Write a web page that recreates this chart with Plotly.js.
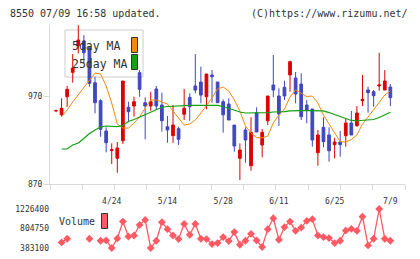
<!DOCTYPE html>
<html><head><meta charset="utf-8">
<script src="https://cdn.plot.ly/plotly-3.0.1.min.js"></script>
<style>html,body{margin:0;padding:0;background:#fff}#chart{width:420px;height:259px}</style>
</head><body><div id="chart"></div>
<script>
// ---- data ----
const dayIndex = [0,1,2,3,4,5,6,7,8,9,10,11,12,13,14,15,16,17,18,19,20,21,22,23,24,25,26,27,28,29,30,31,32,33,34,35,36,37,38,39,40,41,42,43,44,45,46,47,48,49,50,51,52,53,54,55,56,57,58,59,60];
const tickIdx = [10,20,30,40,50,60];
const tickLabels = ['4/24','5/14','5/28','6/11','6/25','7/9'];

const openP  = [953.0,948.7,969.2,996.9,1027.2,1032.5,1024.9,985.1,964.7,930.2,908.0,899.2,919.2,957.2,958.6,996.5,962.4,958.6,978.0,959.8,935.1,924.9,932.8,949.2,968.5,981.4,985.9,969.2,993.9,985.9,963.5,960.9,937.0,899.2,931.4,890.8,951.0,914.3,941.9,982.5,970.0,979.9,993.9,990.5,983.6,959.8,955.2,905.6,934.4,925.7,914.7,917.7,924.9,939.3,936.2,964.7,976.8,974.9,981.4,976.8,980.2];
const highP  = [954.5,967.4,981.4,1017.7,1050.5,1039.3,1025.3,991.9,966.2,934.4,916.2,917.7,987.0,963.5,969.2,999.5,968.5,974.9,981.4,973.8,947.3,959.8,935.1,978.0,973.1,1017.7,1003.3,995.0,999.5,985.9,966.2,967.4,937.0,916.2,934.4,945.8,957.2,932.5,970.0,1016.6,978.8,987.4,1010.1,997.3,995.8,965.5,955.2,931.4,945.8,934.4,922.6,930.2,944.7,953.0,958.6,993.9,980.6,976.8,1019.2,999.5,983.6];
const lowP   = [952.0,946.5,957.5,985.1,1018.5,1007.2,980.6,950.3,923.7,906.0,892.7,882.8,915.5,940.8,946.5,969.2,920.8,953.3,954.1,929.4,916.9,916.9,914.3,942.7,941.9,973.1,961.7,954.9,962.4,962.0,928.3,942.7,906.7,874.5,894.2,885.1,929.1,900.3,937.0,968.5,935.9,965.5,974.9,961.7,942.7,939.0,912.4,890.8,911.7,895.3,899.2,901.0,912.4,925.7,935.1,958.6,951.0,957.8,976.0,976.8,958.6];
const closeP = [953.5,956.0,977.6,1001.8,1033.6,1019.2,984.4,962.4,932.2,916.9,909.0,910.9,987.0,952.2,963.5,977.6,958.6,963.5,958.6,941.9,931.4,937.0,920.8,956.0,957.8,976.8,971.1,995.0,991.9,962.4,948.7,942.7,913.2,908.6,920.0,928.7,929.1,928.7,970.0,976.8,949.5,970.0,1009.0,972.3,946.5,954.1,920.0,925.7,918.1,907.8,917.7,914.7,939.3,925.7,950.7,966.2,973.8,970.3,982.5,987.0,968.1];

const ma5  = [null,946.5,954.1,963.2,971.1,979.1,987.0,996.1,995.0,981.4,962.0,938.2,933.6,933.6,939.3,946.1,956.4,965.5,965.5,963.2,960.9,953.0,945.0,937.0,938.2,942.7,950.7,958.6,967.7,978.0,980.2,975.7,965.5,953.0,935.9,928.0,922.8,922.3,924.5,939.3,948.4,955.2,968.9,976.8,973.4,969.4,970.0,962.0,948.4,938.2,926.8,918.1,917.7,920.5,925.7,938.2,946.1,954.1,962.0,971.1,975.7];
const ma25 = [null,909.8,909.8,914.3,916.6,921.7,927.4,931.4,934.8,935.9,935.3,935.3,936.5,941.0,943.3,946.1,949.5,952.2,954.9,957.2,958.1,958.6,959.2,959.4,959.4,959.4,959.4,959.4,959.4,959.4,958.1,955.8,953.5,951.8,950.7,950.7,950.7,950.7,951.2,951.8,951.8,952.2,953.0,953.5,953.3,953.3,953.3,953.3,953.0,951.2,949.0,946.7,944.4,942.2,941.9,942.2,942.4,943.3,945.6,948.4,951.5];

// volume points that are not visible in the reference are left empty
const volume = [null,503300,582700,null,null,null,582700,null,539700,546200,383100,589100,953900,632000,653500,883100,990400,383100,539700,941000,790800,653500,576200,904500,668500,904500,582700,576200,468900,490400,619100,533300,726400,453900,539700,690000,546200,404600,790800,1026800,561200,833700,953900,754300,825100,968900,1005400,653500,619100,597700,490400,539700,760800,797200,754300,1061200,438900,582700,1226400,582700,539700];
const volTicks = [383100,804750,1226400];
const priceTicks = [870,970];

// ---- layout helpers (pixel -> paper) ----
const W=420,H=259,L=50,R=405,T=25,B=248;
const px = x => (x-L)/(R-L);
const py = y => (B-y)/(B-T);
const FONT = 'DejaVu Sans Mono, monospace';
const gray = '#d9d9d9';

const traces = [
  {type:'candlestick', x:dayIndex, open:openP, high:highP, low:lowP, close:closeP,
   name:'price', xaxis:'x', yaxis:'y', showlegend:false, hoverinfo:'skip',
   increasing:{line:{color:'#dd0000',width:1}, fillcolor:'#dd0000'},
   decreasing:{line:{color:'#4048c0',width:1}, fillcolor:'#4048c0'}},
  {type:'scatter', mode:'lines', x:dayIndex, y:ma5, name:'5day MA', xaxis:'x', yaxis:'y',
   line:{color:'#f58a0c',width:1}, showlegend:false, hoverinfo:'skip'},
  {type:'scatter', mode:'lines', x:dayIndex, y:ma25, name:'25day MA', xaxis:'x', yaxis:'y',
   line:{color:'#10a010',width:1.2}, showlegend:false, hoverinfo:'skip'},
  {type:'scatter', mode:'lines+markers', x:dayIndex, y:volume, name:'Volume', xaxis:'x', yaxis:'y2',
   line:{color:'#ff5a64',width:1.3}, marker:{symbol:'diamond',size:6,color:'#ff5a64'},
   cliponaxis:false, connectgaps:false, showlegend:false, hoverinfo:'skip'},
  {type:'scatter', mode:'markers', x:[0], y:[null], xaxis:'x2', yaxis:'y', showlegend:false, hoverinfo:'skip'}
];

const layout = {
  width:W, height:H, margin:{l:L, r:W-R, t:T, b:H-B},
  paper_bgcolor:'#fff', plot_bgcolor:'#fff', showlegend:false,
  font:{family:FONT, size:8, color:'#333'},
  xaxis:{domain:[0,1], range:[-1.077,62.63], anchor:'y', tickvals:tickIdx, ticktext:tickLabels,
         ticks:'', ticklabelstandoff:9, showgrid:false, zeroline:false, showline:true, linecolor:gray, linewidth:1,
         tickfont:{family:FONT,size:8,color:'#333'}, rangeslider:{visible:false}, fixedrange:true},
  xaxis2:{overlaying:'x', anchor:'y', side:'bottom', range:[0,11], tickvals:[0,1,2,3,4,5,6,7,8,9,10,11],
          ticks:'outside', ticklen:5, tickcolor:gray, tickwidth:1, showticklabels:false, showgrid:false,
          zeroline:false, showline:false},
  yaxis:{domain:[py(184),1], range:[870,1050.7], tickvals:priceTicks, ticks:'outside', ticklen:5, tickcolor:gray,
         showline:true, linecolor:gray, linewidth:1, showgrid:false, zeroline:false,
         tickfont:{family:FONT,size:8,color:'#333'}},
  yaxis2:{domain:[0,py(209)], range:[383100,1226400], tickvals:volTicks, ticktext:['383100','804750','1226400'],
          ticks:'', showline:false, showgrid:false, zeroline:false, anchor:'x',
          tickfont:{family:FONT,size:8,color:'#333'}},
  shapes:[
    {type:'rect', xref:'paper', yref:'paper', x0:px(65), x1:px(143), y0:py(77), y1:py(30),
     line:{color:'#cccccc',width:1}, fillcolor:'rgba(255,255,255,0)', layer:'below'},
    {type:'rect', xref:'paper', yref:'paper', x0:px(131.5), x1:px(137.5), y0:py(52.5), y1:py(37.5),
     line:{color:'#333',width:1}, fillcolor:'#f58a0c'},
    {type:'rect', xref:'paper', yref:'paper', x0:px(131.5), x1:px(137.5), y0:py(69.5), y1:py(54.5),
     line:{color:'#333',width:1}, fillcolor:'#10a010'},
    {type:'rect', xref:'paper', yref:'paper', x0:px(101.5), x1:px(107.5), y0:py(228.5), y1:py(213.5),
     line:{color:'#333',width:1}, fillcolor:'#ff5a64'}
  ],
  annotations:[
    {xref:'paper', yref:'paper', x:px(70), y:py(46.5), xanchor:'left', yanchor:'middle', showarrow:false,
     text:'5day MA', font:{family:FONT,size:11.5,color:'#333'}},
    {xref:'paper', yref:'paper', x:px(70), y:py(63.5), xanchor:'left', yanchor:'middle', showarrow:false,
     text:'25day MA', font:{family:FONT,size:11.5,color:'#333'}},
    {xref:'paper', yref:'paper', x:px(57), y:py(221.5), xanchor:'left', yanchor:'middle', showarrow:false,
     text:'Volume', font:{family:FONT,size:10,color:'#333'}},
    {xref:'paper', yref:'paper', x:px(8), y:py(13.3), xanchor:'left', yanchor:'middle', showarrow:false,
     text:'8550 07/09 16:58 updated.', font:{family:FONT,size:10,color:'#333'}},
    {xref:'paper', yref:'paper', x:px(410), y:py(13.3), xanchor:'right', yanchor:'middle', showarrow:false,
     text:'(C)https://www.rizumu.net/', font:{family:FONT,size:10,color:'#333'}}
  ]
};

Plotly.newPlot('chart', traces, layout, {staticPlot:true, displayModeBar:false});
</script></body></html>
